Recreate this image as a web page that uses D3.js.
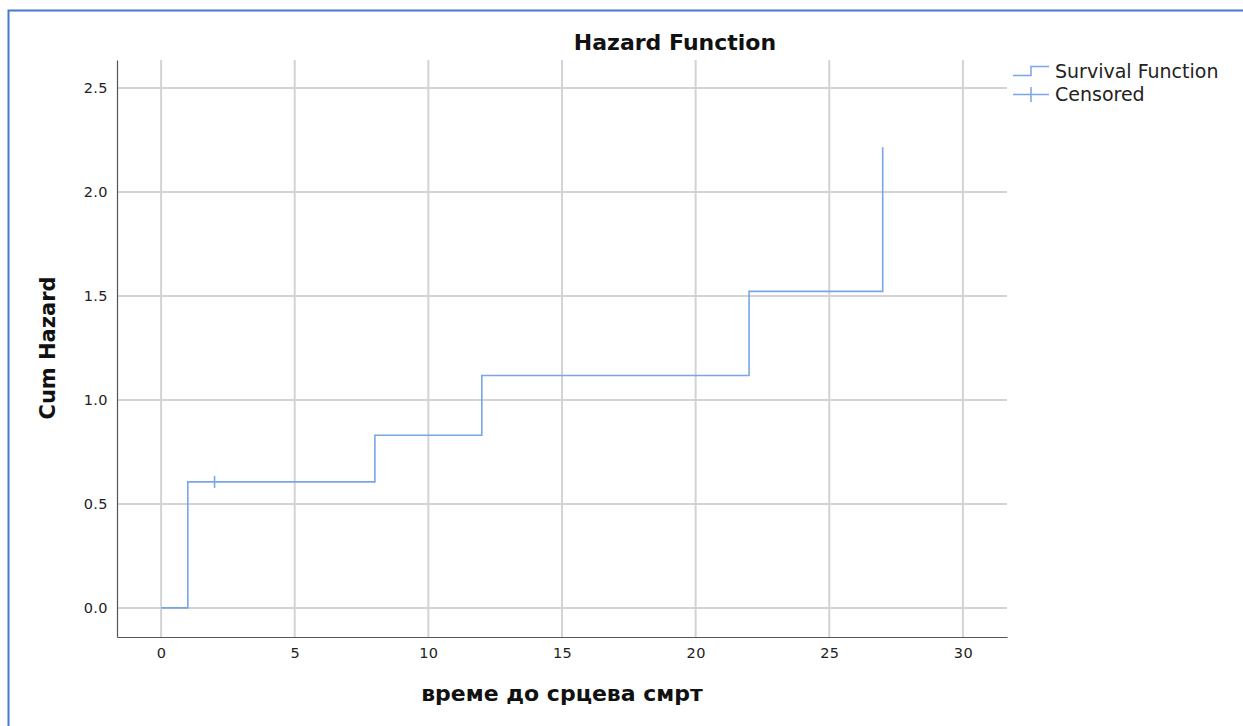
<!DOCTYPE html>
<html>
<head>
<meta charset="utf-8">
<script src="https://cdn.jsdelivr.net/npm/d3@7"></script>
<style>
  html, body { margin: 0; padding: 0; background: #fff; }
  svg { display: block; font-family: "DejaVu Sans", Verdana, sans-serif; }
</style>
</head>
<body>
<svg id="chart" width="1243" height="726"></svg>
<script>
// Cumulative hazard step function: event times and the hazard level reached at each
const stepTimes = [0, 1, 8, 12, 22, 27];
const cumHazard = [0, 0.606, 0.830, 1.118, 1.522, 2.215];
// Censored observations
const censoredTimes = [2];
const censoredHazard = [0.606];

const xTicks = [0, 5, 10, 15, 20, 25, 30];
const yTicks = [0, 0.5, 1.0, 1.5, 2.0, 2.5];

const chartTitle = "Hazard Function";
const xTitle = "време до срцева смрт";
const yTitle = "Cum Hazard";
const legendLabels = ["Survival Function", "Censored"];

const lineColor = "#79a6e6";
const gridColor = "#d3d3d3";
const axisColor = "#555";

const svg = d3.select("#chart");

// Frame of the output panel
svg.append("path")
  .attr("d", "M8.5,726 L8.5,10.5 L1243,10.5")
  .attr("fill", "none")
  .attr("stroke", "#4a78d0")
  .attr("stroke-width", 2);

const plot = { left: 117, right: 1007, top: 60, bottom: 637 };

const x = d3.scaleLinear().domain([-1.65, 31.65]).range([plot.left, plot.right]);
const y = d3.scaleLinear().domain([-0.14, 2.635]).range([plot.bottom, plot.top]);

// Gridlines
svg.append("g").selectAll("line").data(xTicks).join("line")
  .attr("x1", d => x(d)).attr("x2", d => x(d))
  .attr("y1", plot.top).attr("y2", plot.bottom)
  .attr("stroke", gridColor).attr("stroke-width", 2);
svg.append("g").selectAll("line").data(yTicks).join("line")
  .attr("x1", plot.left).attr("x2", plot.right)
  .attr("y1", d => y(d)).attr("y2", d => y(d))
  .attr("stroke", gridColor).attr("stroke-width", 2);

// Axes
const xAxis = svg.append("g")
  .attr("transform", `translate(0,${plot.bottom})`)
  .call(d3.axisBottom(x).tickValues(xTicks).tickFormat(d3.format("d")).tickSize(0).tickPadding(11));
const yAxis = svg.append("g")
  .attr("transform", `translate(${plot.left},0)`)
  .call(d3.axisLeft(y).tickValues(yTicks).tickFormat(d3.format(".1f")).tickSize(0).tickPadding(9));
[xAxis, yAxis].forEach(a => {
  a.select(".domain").attr("stroke", axisColor).attr("stroke-width", 1.2);
  a.selectAll("text").attr("font-size", 14.5).attr("fill", "#222")
    .attr("letter-spacing", 0.4)
    .attr("font-family", "DejaVu Sans, Verdana, sans-serif");
});

// Step line
const pts = stepTimes.map((t, i) => [t, cumHazard[i]]);
const line = d3.line().x(d => x(d[0])).y(d => y(d[1])).curve(d3.curveStepAfter);
svg.append("path")
  .datum(pts)
  .attr("d", line)
  .attr("fill", "none")
  .attr("stroke", lineColor)
  .attr("stroke-width", 1.6);

// Censored marks
svg.append("g").selectAll("line").data(censoredTimes).join("line")
  .attr("x1", d => x(d)).attr("x2", d => x(d))
  .attr("y1", (d, i) => y(censoredHazard[i]) - 6)
  .attr("y2", (d, i) => y(censoredHazard[i]) + 6)
  .attr("stroke", lineColor).attr("stroke-width", 1.6);

// Titles
svg.append("text")
  .attr("x", 675).attr("y", 50)
  .attr("text-anchor", "middle")
  .attr("font-size", 22).attr("font-weight", "bold").attr("fill", "#111")
  .text(chartTitle);
svg.append("text")
  .attr("x", x(15)).attr("y", 701)
  .attr("text-anchor", "middle")
  .attr("font-size", 22).attr("font-weight", "bold").attr("fill", "#111")
  .text(xTitle);
svg.append("text")
  .attr("transform", `translate(55,${(y(1.0) + y(1.5)) / 2}) rotate(-90)`)
  .attr("text-anchor", "middle")
  .attr("font-size", 21).attr("font-weight", "bold").attr("fill", "#111")
  .text(yTitle);

// Legend
const lg = svg.append("g").attr("transform", "translate(1013,0)");
lg.append("path")
  .attr("d", "M0,75.5 H18 V66.5 H36")
  .attr("fill", "none").attr("stroke", lineColor).attr("stroke-width", 1.5);
lg.append("path")
  .attr("d", "M0,94.5 H36 M18,87 V102")
  .attr("fill", "none").attr("stroke", lineColor).attr("stroke-width", 1.5);
lg.selectAll("text.lbl").data(legendLabels).join("text")
  .attr("class", "lbl")
  .attr("x", 42).attr("y", (d, i) => 78 + i * 23)
  .attr("font-size", 19).attr("fill", "#222")
  .text(d => d);
</script>
</body>
</html>
